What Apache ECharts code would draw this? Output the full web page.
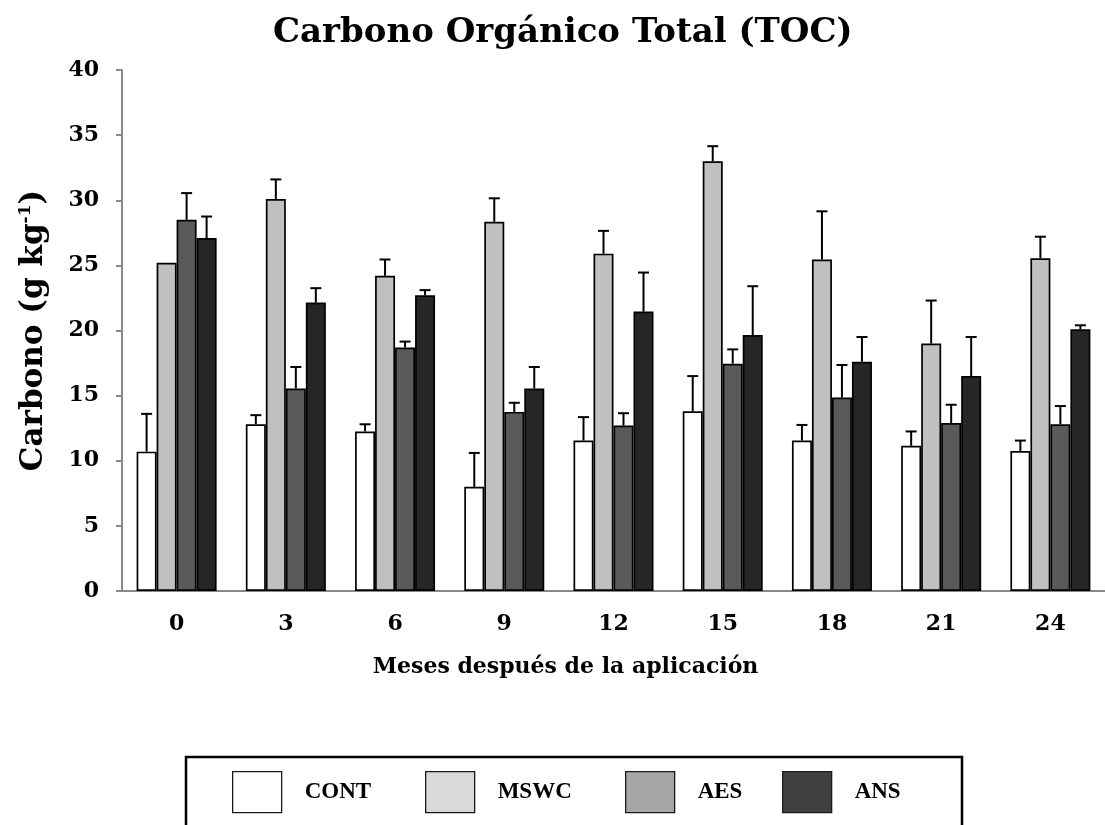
<!DOCTYPE html>
<html>
<head>
<meta charset="utf-8">
<script src="https://cdn.jsdelivr.net/npm/echarts@6/dist/echarts.min.js"></script>
<style>
  html, body { margin: 0; padding: 0; background: #ffffff; }
  #chart { width: 1105px; height: 825px; }
</style>
</head>
<body>
<div id="chart"></div>
<script>
// Months after application
const months = ['0', '3', '6', '9', '12', '15', '18', '21', '24'];
const treatments = ['CONT', 'MSWC', 'AES', 'ANS'];

// Mean total organic carbon (g kg-1) per treatment
const contMean = [10.7, 12.8, 12.25, 8.0, 11.55, 13.8, 11.55, 11.15, 10.75];
const mswcMean = [25.2, 30.1, 24.2, 28.35, 25.9, 33.0, 25.45, 19.0, 25.55];
const aesMean  = [28.5, 15.55, 18.7, 13.75, 12.7, 17.45, 14.85, 12.9, 12.8];
const ansMean  = [27.1, 22.15, 22.7, 15.55, 21.45, 19.65, 17.6, 16.5, 20.1];

// Upper error (standard deviation) per treatment
const contErr = [2.9, 0.7, 0.55, 2.6, 1.8, 2.7, 1.2, 1.1, 0.8];
const mswcErr = [0, 1.5, 1.25, 1.8, 1.75, 1.15, 3.7, 3.3, 1.65];
const aesErr  = [2.05, 1.65, 0.45, 0.7, 0.95, 1.1, 2.5, 1.4, 1.4];
const ansErr  = [1.65, 1.1, 0.4, 1.65, 3.0, 3.75, 1.9, 3.0, 0.3];

// Y-axis ticks
const yTicks = [0, 5, 10, 15, 20, 25, 30, 35, 40];

const means = [contMean, mswcMean, aesMean, ansMean];
const errs = [contErr, mswcErr, aesErr, ansErr];
const barColors = ['#ffffff', '#c0c0c0', '#5a5a5a', '#262626'];
const legendColors = ['#ffffff', '#d9d9d9', '#a6a6a6', '#404040'];
const legendLeft = [227, 420, 620, 777];

const BAR_W = 20;
const serif = '"DejaVu Serif", serif';

const barSeries = treatments.map((name, s) => ({
  name: name,
  type: 'bar',
  barWidth: BAR_W,
  barGap: '0%',
  data: means[s],
  itemStyle: { color: barColors[s], borderColor: '#000000', borderWidth: 1.7 },
  emphasis: { disabled: true },
  z: 2
}));

const errSeries = treatments.map((name, s) => ({
  name: name + ' error',
  type: 'custom',
  z: 5,
  silent: true,
  data: months.map((m, i) => [i, means[s][i], errs[s][i]]),
  encode: { x: 0, y: 1 },
  renderItem: function (params, api) {
    const idx = api.value(0);
    const v = api.value(1);
    const e = api.value(2);
    if (!e) return null;
    const base = api.coord([idx, v]);
    const top = api.coord([idx, v + e]);
    const x = base[0] + (s - 1.5) * BAR_W;
    const style = { stroke: '#000000', lineWidth: 2 };
    return {
      type: 'group',
      children: [
        { type: 'line', shape: { x1: x, y1: base[1], x2: x, y2: top[1] }, style: style },
        { type: 'line', shape: { x1: x - 5.5, y1: top[1], x2: x + 5.5, y2: top[1] }, style: style }
      ]
    };
  }
}));

const legends = treatments.map((name, s) => ({
  data: [{
    name: name,
    itemStyle: { color: legendColors[s], borderColor: '#1a1a1a', borderWidth: 1.3 }
  }],
  left: legendLeft[s],
  top: 766,
  orient: 'horizontal',
  icon: 'rect',
  itemWidth: 49,
  itemHeight: 41,
  selectedMode: false,
  textStyle: {
    fontFamily: '"Liberation Serif", serif',
    fontWeight: 'bold',
    fontSize: 23,
    color: '#000000',
    padding: [0, 0, 0, 18]
  }
}));

const chart = echarts.init(document.getElementById('chart'), null, { renderer: 'canvas' });
chart.setOption({
  backgroundColor: '#ffffff',
  animation: false,
  title: {
    text: 'Carbono Orgánico Total (TOC)',
    left: 268,
    top: 11,
    padding: [5, 5, 5, 5],
    textStyle: { fontFamily: serif, fontWeight: 'bold', fontSize: 34, color: '#000000' }
  },
  legend: legends,
  graphic: [{
    type: 'rect',
    shape: { x: 186, y: 757, width: 776, height: 120 },
    style: { fill: 'none', stroke: '#000000', lineWidth: 2.5 },
    silent: true
  }],
  grid: { left: 122, top: 70, width: 987, height: 521, containLabel: false },
  xAxis: {
    type: 'category',
    data: months,
    boundaryGap: true,
    axisLine: { lineStyle: { color: '#888888', width: 2 } },
    axisTick: { show: false },
    axisLabel: { margin: 22, fontFamily: serif, fontWeight: 'bold', fontSize: 22, color: '#000000' },
    name: 'Meses después de la aplicación',
    nameLocation: 'middle',
    nameGap: 65,
    nameTextStyle: { fontFamily: serif, fontWeight: 'bold', fontSize: 22, color: '#000000', padding: [0, 96, 0, 0] },
    splitLine: { show: false }
  },
  yAxis: {
    type: 'value',
    min: yTicks[0],
    max: yTicks[yTicks.length - 1],
    interval: yTicks[1] - yTicks[0],
    axisLine: { show: true, lineStyle: { color: '#888888', width: 2 } },
    axisTick: { show: true, inside: false, length: 6, lineStyle: { color: '#888888', width: 2 } },
    axisLabel: { margin: 23, fontFamily: serif, fontWeight: 'bold', fontSize: 22, color: '#000000' },
    splitLine: { show: false },
    name: '{a|Carbono (g kg}{s|-1}{a|)}',
    nameLocation: 'middle',
    nameRotate: 90,
    nameGap: 72,
    nameTextStyle: {
      rich: {
        a: { fontFamily: serif, fontWeight: 'bold', fontSize: 31, color: '#000000' },
        s: { fontFamily: serif, fontWeight: 'bold', fontSize: 17, color: '#000000', verticalAlign: 'top', padding: [0, 0, 16, 0] }
      }
    }
  },
  series: barSeries.concat(errSeries)
});
</script>
</body>
</html>
